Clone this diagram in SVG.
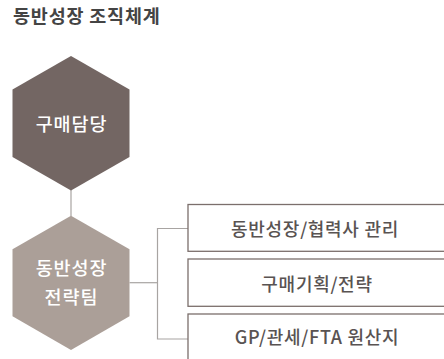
<svg xmlns="http://www.w3.org/2000/svg" width="444" height="359" viewBox="0 0 444 359">
<style>
text{font-family:"Noto Sans CJK KR","Noto Sans",sans-serif;text-anchor:middle}
.title{font-size:18.5px;font-weight:bold;fill:#444;text-anchor:start;letter-spacing:0.8px}
.hex{font-size:18.5px;font-weight:500;fill:#fff;letter-spacing:0.9px}
.box{fill:#fff;stroke:#7b6f6c;stroke-width:1.3}
.lbl{font-size:18px;font-weight:500;fill:#595352;letter-spacing:0.7px}
.conn{fill:none;stroke:#a8a4a2;stroke-width:1.2}
</style>
<text class="title" x="13" y="22.5">동반성장 조직체계</text>
<g id="connectors">
<line class="conn" x1="71" y1="190" x2="71" y2="216"/>
<polyline class="conn" points="129.5,282.7 157.5,282.7"/>
<polyline class="conn" points="188,228.5 157.5,228.5 157.5,339 188,339"/>
</g>
<g id="node-purchase">
<polygon points="71,56 129.5,89.5 129.5,157 71,190.5 12.5,157 12.5,89.5" fill="#736663"/>
<text class="hex" x="71.5" y="130.5">구매담당</text>
</g>
<g id="node-strategy">
<polygon points="71,215.7 129.5,249.3 129.5,316.3 71,350 12.5,316.3 12.5,249.3" fill="#ab9f98"/>
<text class="hex" x="71.5" y="275">동반성장</text>
<text class="hex" x="71.5" y="303.5">전략팀</text>
</g>
<g id="node-box1">
<rect class="box" x="188" y="204.5" width="260" height="46.8"/>
<text class="lbl" x="315" y="235.5">동반성장/협력사 관리</text>
</g>
<g id="node-box2">
<rect class="box" x="188" y="259" width="260" height="47.3"/>
<text class="lbl" x="317" y="290.5">구매기획/전략</text>
</g>
<g id="node-box3">
<rect class="box" x="188" y="314" width="260" height="47"/>
<text class="lbl" x="317" y="344">GP/관세/FTA 원산지</text>
</g>
</svg>
